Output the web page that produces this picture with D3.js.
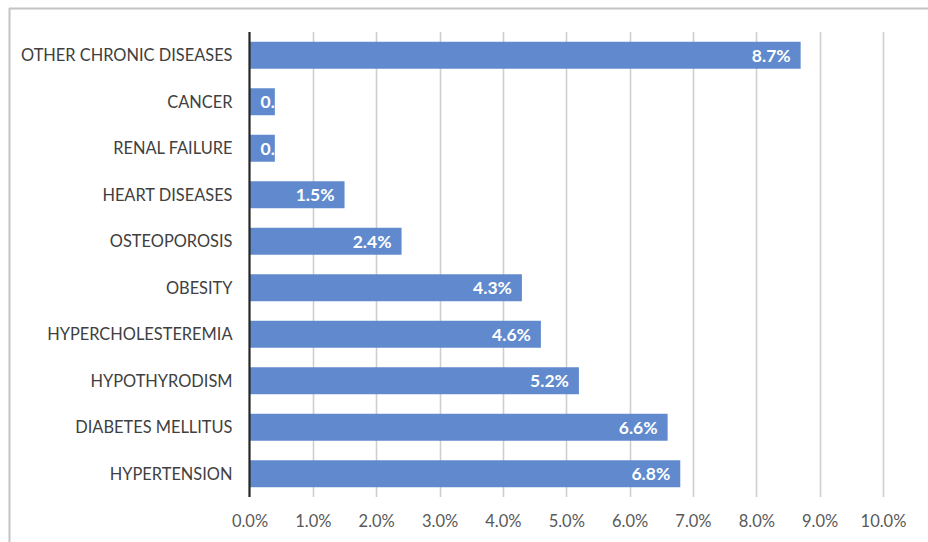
<!DOCTYPE html>
<html>
<head>
<meta charset="utf-8">
<script src="https://cdn.jsdelivr.net/npm/d3@7"></script>
<style>
  html, body { margin: 0; padding: 0; background: #fff; }
  svg { display: block; }
</style>
</head>
<body>
<svg id="chart" width="928" height="542"></svg>
<script>
const categories = [
  "OTHER CHRONIC DISEASES", "CANCER", "RENAL FAILURE", "HEART DISEASES",
  "OSTEOPOROSIS", "OBESITY", "HYPERCHOLESTEREMIA", "HYPOTHYRODISM",
  "DIABETES MELLITUS", "HYPERTENSION"
];
const values = [8.7, 0.4, 0.4, 1.5, 2.4, 4.3, 4.6, 5.2, 6.6, 6.8];
const tickValues = [0, 1, 2, 3, 4, 5, 6, 7, 8, 9, 10];

(function () {
const svg = d3.select("#chart");
const W = 928, H = 542;
const mLeft = 249.5, mRight = 883, mTop = 32, mBottom = 497;
const font = "Lato, 'Open Sans', sans-serif";

// outer border (top and left visible)
svg.append("line").attr("x1", 9).attr("x2", W).attr("y1", 8.5).attr("y2", 8.5)
  .attr("stroke", "#c4c4c4").attr("stroke-width", 2);
svg.append("line").attr("x1", 9.5).attr("x2", 9.5).attr("y1", 8).attr("y2", H)
  .attr("stroke", "#c4c4c4").attr("stroke-width", 2);

const x = d3.scaleLinear().domain([0, 10]).range([mLeft, mRight]);
const y = d3.scaleBand().domain(categories).range([mTop, mBottom]).paddingInner(0.42).paddingOuter(0.21);

// gridlines
svg.append("g").selectAll("line").data(tickValues.slice(1)).join("line")
  .attr("x1", d => Math.round(x(d)) + 0.5).attr("x2", d => Math.round(x(d)) + 0.5)
  .attr("y1", mTop).attr("y2", mBottom)
  .attr("stroke", "#cfcfcf").attr("stroke-width", 1.6);

// x axis tick labels
const xAxis = d3.axisBottom(x).tickValues(tickValues).tickSize(0).tickPadding(0)
  .tickFormat(d => d.toFixed(1) + "%");
const gx = svg.append("g").attr("transform", `translate(0,${mBottom + 24})`).call(xAxis);
gx.select(".domain").remove();
gx.selectAll("text").attr("font-family", font).attr("font-size", 16.5)
  .attr("fill", "#595959").attr("dy", "0.35em");

// bars
const defs = svg.append("defs");
categories.forEach((c, i) => {
  defs.append("clipPath").attr("id", "clip" + i).append("rect")
    .attr("x", x(0)).attr("y", y(c)).attr("width", x(values[i]) - x(0)).attr("height", y.bandwidth());
});

svg.append("g").selectAll("rect").data(categories).join("rect")
  .attr("x", x(0)).attr("y", d => y(d))
  .attr("width", (d, i) => x(values[i]) - x(0))
  .attr("height", y.bandwidth())
  .attr("fill", "#5b86cb")
  .attr("fill-opacity", 0.97);

// data labels
const lbl = svg.append("g").selectAll("text").data(categories).join("text")
  .attr("font-family", font).attr("font-size", 17.5).attr("font-weight", 700)
  .attr("fill", "#fff")
  .attr("y", d => y(d) + y.bandwidth() / 2).attr("dy", "0.36em")
  .attr("clip-path", (d, i) => `url(#clip${i})`)
  .text((d, i) => values[i].toFixed(1) + "%");
lbl.each(function(d, i) {
  const w = this.getComputedTextLength();
  const bw = x(values[i]) - x(0);
  if (w + 18 <= bw) {
    d3.select(this).attr("x", x(values[i]) - 10).attr("text-anchor", "end");
  } else {
    d3.select(this).attr("x", x(0) + 11).attr("text-anchor", "start");
  }
});

// y axis line
svg.append("line").attr("x1", mLeft).attr("x2", mLeft).attr("y1", mTop).attr("y2", mBottom)
  .attr("stroke", "#262626").attr("stroke-width", 2.2);

// category labels
const yAxis = d3.axisLeft(y).tickSize(0).tickPadding(0);
const gy = svg.append("g").attr("transform", `translate(${mLeft - 17},0)`).call(yAxis);
gy.select(".domain").remove();
gy.selectAll("text").attr("font-family", font).attr("font-size", 16.4)
  .attr("fill", "#404040").attr("dy", "0.35em");
})();
</script>
</body>
</html>
